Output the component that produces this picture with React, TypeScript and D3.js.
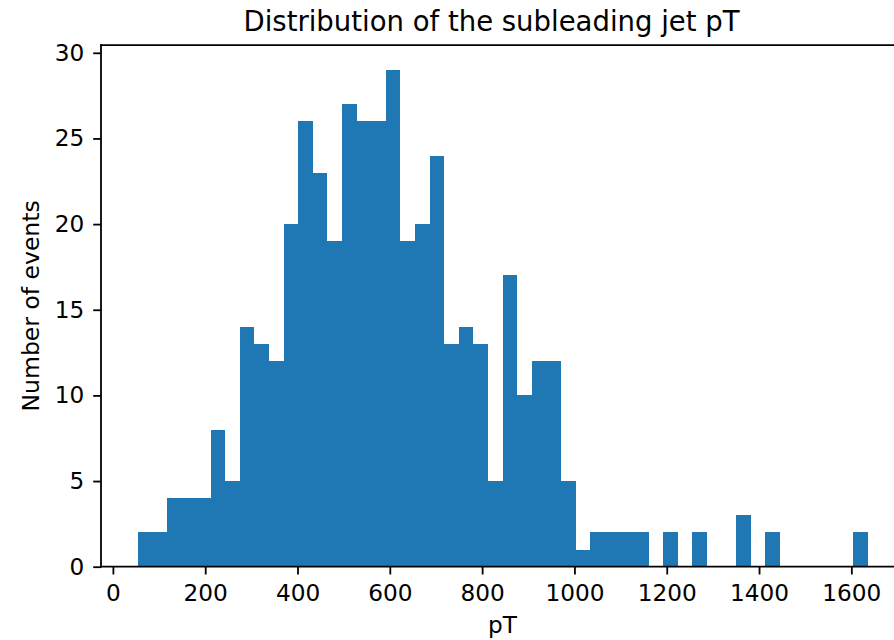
import React, { useEffect, useRef } from 'react';
import * as d3 from 'd3';

// histogram of subleading jet pT, 50 bins
const binCounts = [
	2, 2, 4, 4, 4, 8, 5, 14, 13, 12,
	20, 26, 23, 19, 27, 26, 26, 29, 19, 20,
	24, 13, 14, 13, 5, 17, 10, 12, 12, 5,
	1, 2, 2, 2, 2, 0, 2, 0, 2, 0,
	0, 3, 0, 2, 0, 0, 0, 0, 0, 2
];
const pTRange = [53.3, 1635];
const xTicks = [0, 200, 400, 600, 800, 1000, 1200, 1400, 1600];
const yTicks = [0, 5, 10, 15, 20, 25, 30];

const title = 'Distribution of the subleading jet pT';
const xLabel = 'pT';
const yLabel = 'Number of events';

const width = 894;
const height = 640;
const margin = { top: 45.1, right: -10, bottom: 73.3, left: 101 };
const font = '"DejaVu Sans", sans-serif';
const barColor = '#1f77b4';
const tickFont = 23.2;

const nBins = binCounts.length;
const step = (pTRange[1] - pTRange[0]) / nBins;
const bins = binCounts.map((count, i) => ({
	x0: pTRange[0] + i * step,
	x1: pTRange[0] + (i + 1) * step,
	count
}));

// matplotlib default 5% margins
const span = pTRange[1] - pTRange[0];
const x = d3
	.scaleLinear()
	.domain([pTRange[0] - 0.05 * span, pTRange[1] + 0.05 * span])
	.range([margin.left, width - margin.right]);

const yMax = d3.max(binCounts) * 1.05;
const y = d3
	.scaleLinear()
	.domain([0, yMax])
	.range([height - margin.bottom, margin.top]);

export default function App() {
	const xAxisRef = useRef(null);
	const yAxisRef = useRef(null);

	useEffect(() => {
		const xAxis = d3
			.axisBottom(x)
			.tickValues(xTicks)
			.tickFormat(d3.format('d'))
			.tickSize(7.8)
			.tickSizeOuter(0)
			.tickPadding(9.7);
		const yAxis = d3
			.axisLeft(y)
			.tickValues(yTicks)
			.tickFormat(d3.format('d'))
			.tickSize(7.8)
			.tickSizeOuter(0)
			.tickPadding(9);

		const gx = d3.select(xAxisRef.current).call(xAxis);
		const gy = d3.select(yAxisRef.current).call(yAxis);

		[gx, gy].forEach(g => {
			g.select('.domain').remove();
			g.selectAll('.tick line').attr('stroke', '#000').attr('stroke-width', 1.8);
			g.selectAll('.tick text')
				.attr('fill', '#000')
				.style('font-family', font)
				.style('font-size', `${tickFont}px`);
		});
	}, []);

	const x0 = margin.left;
	const x1 = width - margin.right;
	const y0 = height - margin.bottom;
	const y1 = margin.top;

	return (
		<svg
			width={width}
			height={height}
			style={{ position: 'absolute', left: 0, top: 0, background: '#fff' }}
		>
			<rect x={0} y={0} width={width} height={height} fill="#fff" />
			<g shapeRendering="crispEdges">
				{bins
					.filter(b => b.count > 0)
					.map((b, i) => (
						<rect
							key={i}
							x={x(b.x0)}
							y={y(b.count)}
							width={x(b.x1) - x(b.x0)}
							height={y(0) - y(b.count)}
							fill={barColor}
						/>
					))}
			</g>
			<g ref={xAxisRef} transform={`translate(0, ${y0})`} />
			<g ref={yAxisRef} transform={`translate(${x0}, 0)`} />
			<g stroke="#000" strokeWidth={1.8} fill="none" strokeLinecap="square">
				<line x1={x0} y1={y0} x2={x1} y2={y0} />
				<line x1={x0} y1={y1} x2={x1} y2={y1} />
				<line x1={x0} y1={y0} x2={x0} y2={y1} />
				<line x1={x1} y1={y0} x2={x1} y2={y1} />
			</g>
			<text
				x={491.5}
				y={31}
				textAnchor="middle"
				fontFamily={font}
				fontSize={27.5}
				fill="#000"
			>
				{title}
			</text>
			<text
				x={(x0 + x1) / 2}
				y={633.3}
				textAnchor="middle"
				fontFamily={font}
				fontSize={tickFont}
				fill="#000"
			>
				{xLabel}
			</text>
			<text
				transform={`translate(39.3, ${(y0 + y1) / 2}) rotate(-90)`}
				textAnchor="middle"
				fontFamily={font}
				fontSize={23.5}
				fill="#000"
			>
				{yLabel}
			</text>
		</svg>
	);
}
